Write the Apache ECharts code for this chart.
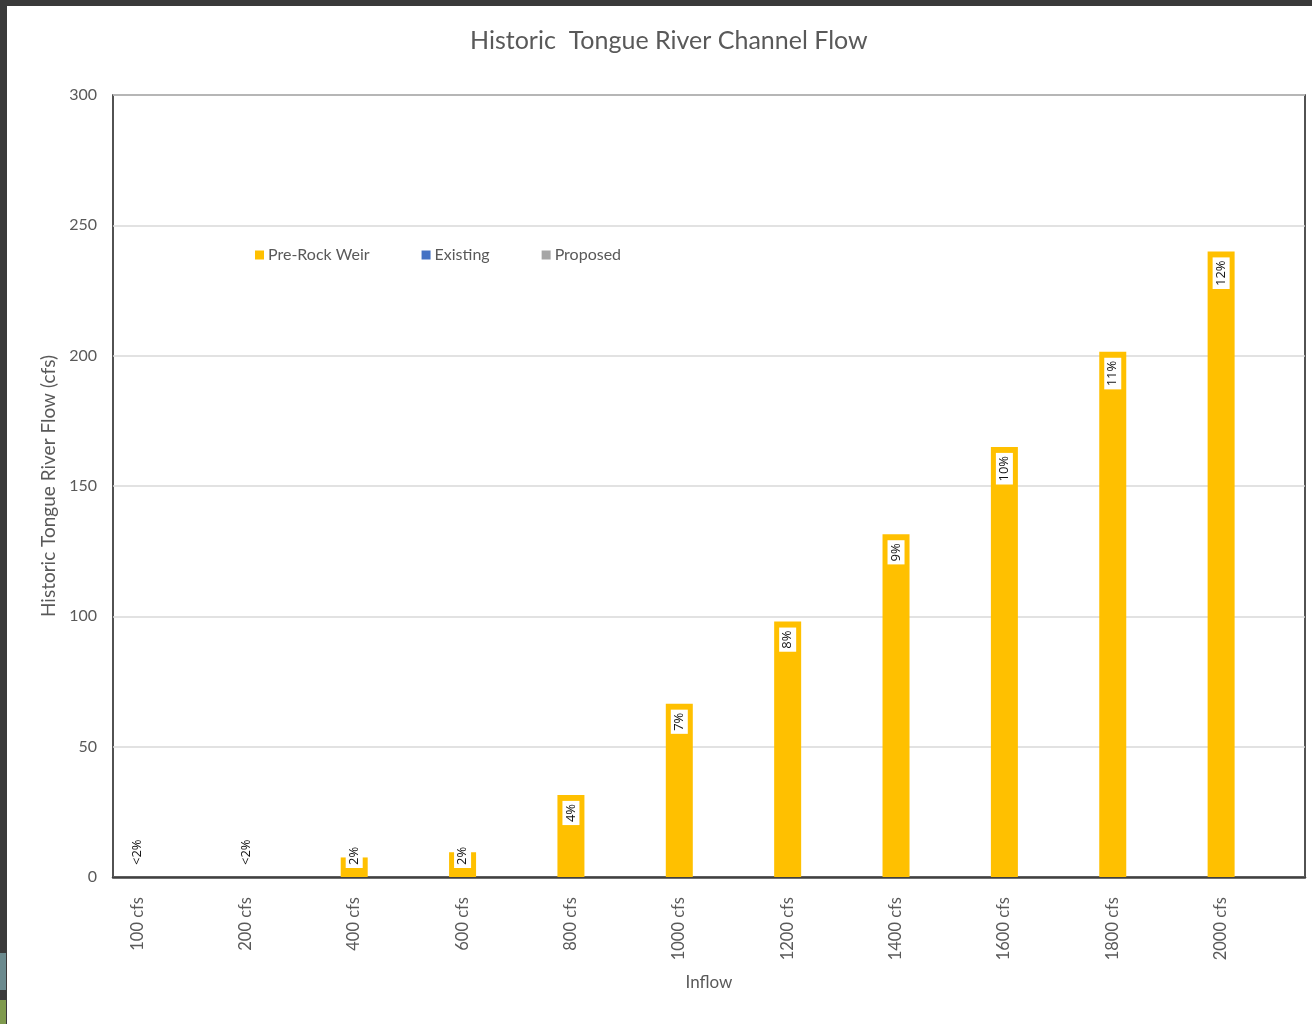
<!DOCTYPE html>
<html>
<head>
<meta charset="utf-8" />
<script type="text/javascript" src="https://cdn.jsdelivr.net/npm/echarts@6/dist/echarts.min.js"></script>
<title>Historic Tongue River Channel Flow</title>
<style>
  body { margin: 0; background: #3a3a3a; width: 1312px; height: 1024px; overflow: hidden; position: relative; }
  #main { position: absolute; left: 7px; top: 6px; width: 1305px; height: 1018px; background: #fff; }
  .strip { position: absolute; left: 0; width: 6px; }
</style>
</head>
<body>
<div class="strip" style="top:953px;height:37px;background:#6b8a8e"></div>
<div class="strip" style="top:1000px;height:24px;background:#7f9a4e"></div>
<div id="main"></div>
<script type="text/javascript">
  var categories = ['100 cfs', '200 cfs', '400 cfs', '600 cfs', '800 cfs', '1000 cfs',
                    '1200 cfs', '1400 cfs', '1600 cfs', '1800 cfs', '2000 cfs'];
  var preRockWeir = [0, 0, 7.5, 9.5, 31.5, 66.5, 98, 131.5, 165, 201.5, 240];
  var existing = [null, null, null, null, null, null, null, null, null, null, null];
  var proposed = [null, null, null, null, null, null, null, null, null, null, null];
  var pctLabels = ['<2%', '<2%', '2%', '2%', '4%', '7%', '8%', '9%', '10%', '11%', '12%'];

  var myChart = echarts.init(document.getElementById('main'));
  var font = 'Lato, "Open Sans", sans-serif';
  var grey = '#595959';

  // small bars get their label at the base, the rest at the top inside
  var preData = [];
  for (var i = 0; i < preRockWeir.length; i++) {
    var small = preRockWeir[i] < 15;
    preData.push({
      value: preRockWeir[i],
      label: small ? { position: 'insideBottom', align: 'left', distance: 9 }
                   : { position: 'insideTop', align: 'right', distance: 6 }
    });
  }

  var option = {
    animation: false,
    title: {
      text: 'Historic  Tongue River Channel Flow',
      left: 463,
      top: 22,
      padding: 0,
      textStyle: { fontFamily: font, fontSize: 25, fontWeight: 'normal', color: grey }
    },
    legend: {
      left: 248,
      top: 241,
      padding: 0,
      itemWidth: 9,
      itemHeight: 9,
      itemGap: 52,
      icon: 'rect',
      textStyle: { fontFamily: font, fontSize: 16, color: grey, padding: [0, 0, 0, -1] },
      data: ['Pre-Rock Weir', 'Existing', 'Proposed']
    },
    grid: {
      left: 106, top: 89, right: 7, bottom: 147,
      show: true, borderColor: '#1a1a1a', borderWidth: 1.5,
      containLabel: false
    },
    xAxis: {
      type: 'category',
      data: categories,
      name: 'Inflow',
      nameLocation: 'middle',
      nameGap: 97,
      nameTextStyle: { fontFamily: font, fontSize: 17, color: grey },
      axisLine: { lineStyle: { color: '#404040', width: 2.5 } },
      axisTick: { show: false },
      axisLabel: {
        rotate: 90,
        margin: 20,
        // second, empty line pushes the text left onto the first bar of each group
        formatter: function (v) { return '{t|' + v + '}\n{s| }'; },
        rich: {
          t: { fontFamily: font, fontSize: 16.5, color: grey, lineHeight: 20 },
          s: { fontSize: 10, lineHeight: 60 }
        }
      }
    },
    yAxis: {
      type: 'value',
      min: 0,
      max: 300,
      interval: 50,
      name: 'Historic Tongue River Flow (cfs)',
      nameLocation: 'middle',
      nameGap: 46,
      nameTextStyle: { fontFamily: font, fontSize: 19, color: grey },
      axisLine: { show: false },
      axisTick: { show: false },
      axisLabel: { fontFamily: font, fontSize: 16, color: grey, margin: 16 },
      splitLine: { lineStyle: { color: '#d9d9d9', width: 1.5 } }
    },
    series: [
      {
        name: 'Pre-Rock Weir',
        type: 'bar',
        barWidth: 27,
        barGap: '10%',
        itemStyle: { color: '#ffc000' },
        data: preData,
        label: {
          show: true,
          rotate: 90,
          verticalAlign: 'middle',
          fontFamily: '"Open Sans", sans-serif',
          fontSize: 13,
          color: '#111',
          backgroundColor: '#fff',
          padding: [3, 3, 1, 3],
          formatter: function (p) { return pctLabels[p.dataIndex]; }
        }
      },
      {
        name: 'Existing',
        type: 'bar',
        barWidth: 27,
        barGap: '10%',
        itemStyle: { color: '#4472c4' },
        data: existing
      },
      {
        name: 'Proposed',
        type: 'bar',
        barWidth: 27,
        barGap: '10%',
        itemStyle: { color: '#a5a5a5' },
        data: proposed
      }
    ]
  };
  myChart.setOption(option);
</script>
</body>
</html>
